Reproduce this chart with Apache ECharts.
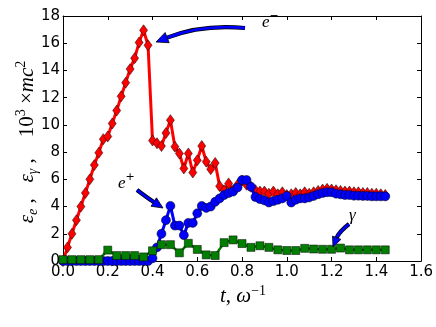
<!DOCTYPE html>
<html><head><meta charset="utf-8">
<script src="https://cdn.jsdelivr.net/npm/echarts@6/dist/echarts.min.js"></script>
<style>html,body{margin:0;padding:0;background:#fff}#c{width:436px;height:327px}</style>
</head><body><div id="c"></div>
<script>
// time grids (omega^-1)
const timeFine = [0.00,0.02,0.04,0.06,0.08,0.10,0.12,0.14,0.16,0.18,
  0.20,0.22,0.24,0.26,0.28,0.30,0.32,0.34,0.36,0.38,
  0.40,0.42,0.44,0.46,0.48,0.50,0.52,0.54,0.56,0.58,
  0.60,0.62,0.64,0.66,0.68,0.70,0.72,0.74,0.76,0.78,
  0.80,0.82,0.84,0.86,0.88,0.90,0.92,0.94,0.96,0.98,
  1.00,1.02,1.04,1.06,1.08,1.10,1.12,1.14,1.16,1.18,
  1.20,1.22,1.24,1.26,1.28,1.30,1.32,1.34,1.36,1.38,
  1.40,1.42,1.44];
const timeCoarse = [0.00,0.04,0.08,0.12,0.16,0.20,0.24,0.28,0.32,0.36,
  0.40,0.44,0.48,0.52,0.56,0.60,0.64,0.68,0.72,0.76,
  0.80,0.84,0.88,0.92,0.96,1.00,1.04,1.08,1.12,1.16,
  1.20,1.24,1.28,1.32,1.36,1.40,1.44];
// energies (10^3 mc^2)
const electronEnergy = [0,1,2,3,4,5,6,7.05,7.95,8.95,
  9.15,10.1,11.05,12.1,13.1,14.1,14.9,16.05,16.95,15.85,
  8.85,8.65,8.45,9.4,10.35,8.4,7.9,6.8,7.9,6.5,
  7.4,8.45,7.3,6.75,7.2,5.5,5.2,5.7,5.2,5.6,
  5.9,5.6,5.45,5.2,5.1,5.1,4.95,5.1,4.9,5.05,
  4.85,4.9,5.0,4.9,5.05,4.95,5.05,5.15,5.25,5.3,
  5.25,5.2,5.15,5.1,5.1,5.05,5.05,5.0,5.0,4.95,
  4.95,4.9,4.85];
const positronEnergy = [0,0,0,0,0,0,0,0,0,0,
  0,0,0,0,0,0,0,0,0,0,
  0.2,1.0,2.0,3.0,4.05,2.6,2.6,1.9,2.8,2.8,
  3.5,4.05,3.9,4.0,4.35,4.6,4.85,5.0,5.1,5.4,
  5.95,5.95,5.45,4.7,4.55,4.45,4.3,4.4,4.5,4.6,
  4.78,4.3,4.5,4.6,4.6,4.67,4.78,4.9,5.0,5.05,
  5.05,4.95,4.9,4.85,4.85,4.8,4.8,4.78,4.78,4.75,
  4.75,4.75,4.75];
const photonEnergy = [0.1,0.1,0.1,0.1,0.1,0.8,0.4,0.4,0.4,0.3,
  0.75,1.2,1.2,0.6,1.3,0.85,0.45,0.4,1.35,1.55,
  1.28,1.0,1.12,1.0,0.82,0.77,0.77,0.93,0.88,0.86,
  0.86,0.95,0.82,0.82,0.82,0.82,0.82];
const xTickLabels = ['0.0','0.2','0.4','0.6','0.8','1.0','1.2','1.4','1.6'];
const yTickLabels = ['0','2','4','6','8','10','12','14','16','18'];

function pairs(ts, vs){ return ts.map((t,i)=>[t, vs[i]]); }

const chart = echarts.init(document.getElementById('c'), null, {renderer:'canvas'});

function arrow(tail, ctrl, tip, hl, hw){
  const dx = tip[0]-ctrl[0], dy = tip[1]-ctrl[1];
  const L = Math.hypot(dx,dy), ux = dx/L, uy = dy/L;
  const bx = tip[0]-ux*hl, by = tip[1]-uy*hl;
  const px = -uy, py = ux;
  const body = {x1:tail[0],y1:tail[1],cpx1:ctrl[0],cpy1:ctrl[1],x2:bx,y2:by};
  return [
    {type:'bezierCurve', shape:body, style:{stroke:'#000', lineWidth:4.2, fill:null}, z:100},
    {type:'bezierCurve', shape:body, style:{stroke:'#0000ff', lineWidth:2.8, fill:null}, z:101},
    {type:'polygon', shape:{points:[[tip[0],tip[1]],[bx+px*hw/2,by+py*hw/2],[bx-px*hw/2,by-py*hw/2]]},
     style:{fill:'#0000ff', stroke:'#000', lineWidth:0.8}, z:102}
  ];
}

const serifI = {fontFamily:'Liberation Serif', fontStyle:'italic'};
const graphics = [].concat(
  arrow([245,28],[202,24],[156,42],12,11),
  arrow([137,190],[149,199],[163,208],11,10),
  arrow([349,224],[339,232],[333,247],10,9),
  [
    {type:'text', left:262, top:11, z:110, style:{text:'{i|e}{s|−}', rich:{
      i:Object.assign({fontSize:17, lineHeight:20, verticalAlign:'bottom'}, serifI),
      s:{fontFamily:'DejaVu Sans', fontSize:11, lineHeight:11, verticalAlign:'top'}}}},
    {type:'text', left:118, top:172, z:110, style:{text:'{i|e}{s|+}', rich:{
      i:Object.assign({fontSize:17, lineHeight:20, verticalAlign:'bottom'}, serifI),
      s:{fontFamily:'DejaVu Sans', fontSize:11, lineHeight:11, verticalAlign:'top'}}}},
    {type:'text', left:349, top:207, z:110, style:{text:'{i|γ}', rich:{
      i:Object.assign({fontSize:17, lineHeight:20}, serifI)}}},
    {type:'text', x:243, y:296, z:110, style:{text:'{i|t}{r|, }{i|ω}{s|−1}', align:'center', verticalAlign:'middle', rich:{
      i:Object.assign({fontSize:21, lineHeight:24, verticalAlign:'middle'}, serifI),
      r:{fontFamily:'Liberation Serif', fontSize:21, lineHeight:24, verticalAlign:'middle'},
      s:{fontFamily:'Liberation Serif', fontSize:14, lineHeight:14, verticalAlign:'top'}}}},
    {type:'text', x:27, y:142, rotation:Math.PI/2, z:110, style:{
      text:'{i|ε}{b|e}{r| ,   }{i|ε}{b|γ}{r| ,    10}{s|3}{r| ×}{i|mc}{s|2}',
      align:'center', verticalAlign:'middle', rich:{
      i:Object.assign({fontSize:21, lineHeight:26, verticalAlign:'middle'}, serifI),
      r:{fontFamily:'Liberation Serif', fontSize:21, lineHeight:26, verticalAlign:'middle'},
      b:Object.assign({fontSize:14, lineHeight:14, verticalAlign:'bottom'}, serifI),
      s:{fontFamily:'Liberation Serif', fontSize:14, lineHeight:14, verticalAlign:'top'}}}}
  ]
);

const axisLineStyle = {show:true, onZero:false, lineStyle:{color:'#000', width:1}};
const tickStyle = {show:true, inside:true, length:4, lineStyle:{color:'#000', width:1}};
const labelFont = {fontFamily:'DejaVu Sans', fontSize:15, color:'#000'};

chart.setOption({
  animation:false,
  backgroundColor:'#fff',
  grid:{left:63, right:13, top:16, bottom:66, containLabel:false},
  xAxis:[
    {type:'value', min:0, max:1.6, interval:0.2, position:'bottom',
     axisLine:axisLineStyle, axisTick:tickStyle, splitLine:{show:false},
     axisLabel:Object.assign({margin:4, formatter:(v)=>xTickLabels[Math.round(v/0.2)]}, labelFont)},
    {type:'value', min:0, max:1.6, interval:0.2, position:'top',
     axisLine:axisLineStyle, axisTick:tickStyle, splitLine:{show:false}, axisLabel:{show:false}}
  ],
  yAxis:[
    {type:'value', min:0, max:18, interval:2, position:'left',
     axisLine:axisLineStyle, axisTick:tickStyle, splitLine:{show:false},
     axisLabel:Object.assign({margin:3, formatter:(v)=>yTickLabels[Math.round(v/2)]}, labelFont)},
    {type:'value', min:0, max:18, interval:2, position:'right',
     axisLine:axisLineStyle, axisTick:tickStyle, splitLine:{show:false}, axisLabel:{show:false}}
  ],
  series:[
    {type:'line', name:'e-', data:pairs(timeFine, electronEnergy), symbol:'diamond', symbolSize:[8,11],
     showAllSymbol:true, lineStyle:{color:'#ff0000', width:3},
     itemStyle:{color:'#ff0000', borderColor:'#000', borderWidth:0.5}, z:2},
    {type:'line', name:'e+', data:pairs(timeFine, positronEnergy), symbol:'circle', symbolSize:9,
     showAllSymbol:true, lineStyle:{color:'#0000ff', width:3},
     itemStyle:{color:'#0000ff', borderColor:'#000', borderWidth:0.5}, z:3},
    {type:'line', name:'gamma', data:pairs(timeCoarse, photonEnergy), symbol:'rect', symbolSize:8,
     showAllSymbol:true, lineStyle:{color:'#007f00', width:2.5},
     itemStyle:{color:'#007f00', borderColor:'#000', borderWidth:0.5}, z:4}
  ],
  graphic:graphics
});
</script></body></html>
